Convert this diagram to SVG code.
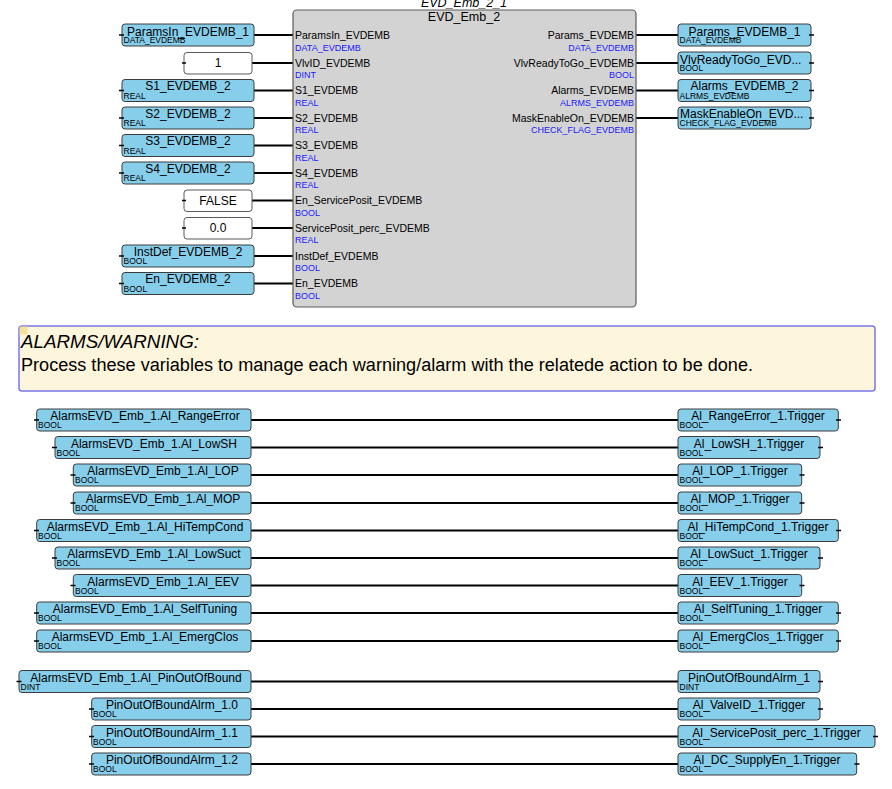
<svg xmlns="http://www.w3.org/2000/svg" width="892" height="789" viewBox="0 0 892 789">
<style>
text{font-family:"Liberation Sans",Arial,sans-serif}
.var{fill:#87ceeb;stroke:#3c3c3c;stroke-width:1}
.cst{fill:#fff;stroke:#5a5a5a;stroke-width:1}
.nm{font-size:12px;text-anchor:middle;fill:#000}
.nl{font-size:12px;fill:#000}
.ty{font-size:8.5px;fill:#000}
.w{stroke:#000;stroke-width:2;fill:none}
.st{stroke:#000;stroke-width:1.5}
.pn{font-size:10.5px;fill:#000}
.pr{font-size:10.5px;fill:#000;text-anchor:end}
.pt{font-size:9px;fill:#1a1aff}
.ptr{font-size:9px;fill:#1a1aff;text-anchor:end}
</style>
<rect width="892" height="789" fill="#fff"/>

<g id="connectors">
<line class="w" x1="254" y1="35" x2="293" y2="35"/>
<line class="w" x1="252" y1="63" x2="293" y2="63"/>
<line class="w" x1="254" y1="90.5" x2="293" y2="90.5"/>
<line class="w" x1="254" y1="118" x2="293" y2="118"/>
<line class="w" x1="254" y1="145.5" x2="293" y2="145.5"/>
<line class="w" x1="254" y1="173" x2="293" y2="173"/>
<line class="w" x1="252" y1="200.5" x2="293" y2="200.5"/>
<line class="w" x1="252" y1="228" x2="293" y2="228"/>
<line class="w" x1="254" y1="256" x2="293" y2="256"/>
<line class="w" x1="254" y1="283.5" x2="293" y2="283.5"/>
<line class="w" x1="636" y1="35" x2="678" y2="35"/>
<line class="w" x1="636" y1="63" x2="678" y2="63"/>
<line class="w" x1="636" y1="90.5" x2="678" y2="90.5"/>
<line class="w" x1="636" y1="118" x2="678" y2="118"/>
<line class="w" x1="251" y1="420" x2="678" y2="420"/>
<line class="w" x1="251" y1="447.5" x2="678" y2="447.5"/>
<line class="w" x1="251" y1="475" x2="678" y2="475"/>
<line class="w" x1="251" y1="503" x2="678" y2="503"/>
<line class="w" x1="251" y1="530.5" x2="678" y2="530.5"/>
<line class="w" x1="251" y1="558" x2="678" y2="558"/>
<line class="w" x1="251" y1="585.5" x2="678" y2="585.5"/>
<line class="w" x1="251" y1="613" x2="678" y2="613"/>
<line class="w" x1="251" y1="641" x2="678" y2="641"/>
<line class="w" x1="251" y1="681.5" x2="678" y2="681.5"/>
<line class="w" x1="251" y1="709" x2="678" y2="709"/>
<line class="w" x1="251" y1="736.5" x2="678" y2="736.5"/>
<line class="w" x1="251" y1="764" x2="678" y2="764"/>
</g>

<g id="block_EVD_Emb_2_1">
<text x="464" y="7" font-size="12.5" font-style="italic" text-anchor="middle">EVD_Emb_2_1</text>
<rect x="293" y="10" width="343" height="297" rx="4" fill="#d3d3d3" stroke="#5a5a5a" stroke-width="1.2"/>
<text x="464" y="21" font-size="12.5" text-anchor="middle">EVD_Emb_2</text>
<text class="pn" x="295" y="38.5">ParamsIn_EVDEMB</text><text class="pt" x="295" y="50.5">DATA_EVDEMB</text>
<text class="pn" x="295" y="66.5">VlvID_EVDEMB</text><text class="pt" x="295" y="78">DINT</text>
<text class="pn" x="295" y="94">S1_EVDEMB</text><text class="pt" x="295" y="105.5">REAL</text>
<text class="pn" x="295" y="121.5">S2_EVDEMB</text><text class="pt" x="295" y="133">REAL</text>
<text class="pn" x="295" y="149">S3_EVDEMB</text><text class="pt" x="295" y="160.5">REAL</text>
<text class="pn" x="295" y="176.5">S4_EVDEMB</text><text class="pt" x="295" y="188">REAL</text>
<text class="pn" x="295" y="204">En_ServicePosit_EVDEMB</text><text class="pt" x="295" y="215.5">BOOL</text>
<text class="pn" x="295" y="231.5">ServicePosit_perc_EVDEMB</text><text class="pt" x="295" y="243">REAL</text>
<text class="pn" x="295" y="259.5">InstDef_EVDEMB</text><text class="pt" x="295" y="271">BOOL</text>
<text class="pn" x="295" y="287">En_EVDEMB</text><text class="pt" x="295" y="298.5">BOOL</text>
<text class="pr" x="634" y="38.5">Params_EVDEMB</text><text class="ptr" x="634" y="50.5">DATA_EVDEMB</text>
<text class="pr" x="634" y="66.5">VlvReadyToGo_EVDEMB</text><text class="ptr" x="634" y="78">BOOL</text>
<text class="pr" x="634" y="94">Alarms_EVDEMB</text><text class="ptr" x="634" y="105.5">ALRMS_EVDEMB</text>
<text class="pr" x="634" y="121.5">MaskEnableOn_EVDEMB</text><text class="ptr" x="634" y="133">CHECK_FLAG_EVDEMB</text>
</g>

<g id="in_ParamsIn"><rect class="var" x="122" y="24" width="132" height="22" rx="3"/><line class="st" x1="119" y1="35" x2="124" y2="35"/><text class="nm" x="188" y="35.5">ParamsIn_EVDEMB_1</text><text class="ty" x="123.5" y="43">DATA_EVDEMB</text></g>
<g id="in_const1"><rect class="cst" x="184" y="52.5" width="68" height="21.5" rx="3"/><line class="st" x1="182" y1="63" x2="186" y2="63"/><text class="nm" x="218" y="67">1</text></g>
<g id="in_S1"><rect class="var" x="122" y="79.5" width="132" height="22" rx="3"/><line class="st" x1="119" y1="90.5" x2="124" y2="90.5"/><text class="nm" x="188" y="90">S1_EVDEMB_2</text><text class="ty" x="123.5" y="98.5">REAL</text></g>
<g id="in_S2"><rect class="var" x="122" y="107" width="132" height="22" rx="3"/><line class="st" x1="119" y1="118" x2="124" y2="118"/><text class="nm" x="188" y="117.5">S2_EVDEMB_2</text><text class="ty" x="123.5" y="126">REAL</text></g>
<g id="in_S3"><rect class="var" x="122" y="134.5" width="132" height="22" rx="3"/><line class="st" x1="119" y1="145.5" x2="124" y2="145.5"/><text class="nm" x="188" y="145">S3_EVDEMB_2</text><text class="ty" x="123.5" y="153.5">REAL</text></g>
<g id="in_S4"><rect class="var" x="122" y="162" width="132" height="22" rx="3"/><line class="st" x1="119" y1="173" x2="124" y2="173"/><text class="nm" x="188" y="172.5">S4_EVDEMB_2</text><text class="ty" x="123.5" y="181">REAL</text></g>
<g id="in_FALSE"><rect class="cst" x="184" y="190" width="68" height="21.5" rx="3"/><line class="st" x1="182" y1="200.5" x2="186" y2="200.5"/><text class="nm" x="218" y="204.5">FALSE</text></g>
<g id="in_zero"><rect class="cst" x="184" y="217.5" width="68" height="21.5" rx="3"/><line class="st" x1="182" y1="228" x2="186" y2="228"/><text class="nm" x="218" y="232">0.0</text></g>
<g id="in_InstDef"><rect class="var" x="122" y="245" width="132" height="22" rx="3"/><line class="st" x1="119" y1="256" x2="124" y2="256"/><text class="nm" x="188" y="255.5">InstDef_EVDEMB_2</text><text class="ty" x="123.5" y="264">BOOL</text></g>
<g id="in_En"><rect class="var" x="122" y="272.5" width="132" height="22" rx="3"/><line class="st" x1="119" y1="283.5" x2="124" y2="283.5"/><text class="nm" x="188" y="283">En_EVDEMB_2</text><text class="ty" x="123.5" y="291.5">BOOL</text></g>

<g id="out_Params"><rect class="var" x="678" y="24" width="133" height="22" rx="3"/><line class="st" x1="809" y1="35" x2="814" y2="35"/><text class="nm" x="744.5" y="35.5">Params_EVDEMB_1</text><text class="ty" x="679.5" y="43">DATA_EVDEMB</text></g>
<g id="out_VlvReady"><rect class="var" x="678" y="52" width="133" height="22" rx="3"/><line class="st" x1="809" y1="63" x2="814" y2="63"/><text class="nl" x="680" y="63.5">VlvReadyToGo_EVD...</text><text class="ty" x="679.5" y="71">BOOL</text></g>
<g id="out_Alarms"><rect class="var" x="678" y="79.5" width="133" height="22" rx="3"/><line class="st" x1="809" y1="90.5" x2="814" y2="90.5"/><text class="nm" x="744.5" y="90">Alarms_EVDEMB_2</text><text class="ty" x="679.5" y="98.5">ALRMS_EVDEMB</text></g>
<g id="out_Mask"><rect class="var" x="678" y="107" width="133" height="22" rx="3"/><line class="st" x1="809" y1="118" x2="814" y2="118"/><text class="nl" x="680" y="117.5">MaskEnableOn_EVD...</text><text class="ty" x="679.5" y="126">CHECK_FLAG_EVDEMB</text></g>

<g id="comment">
<rect x="19" y="326" width="856" height="65" rx="3" fill="#fdf5dc" stroke="#7878e8" stroke-width="1.5"/>
<rect x="19.5" y="326.5" width="8" height="8" fill="#f3dc86" opacity="0.8"/>
<text x="21" y="347.5" font-size="18" font-style="italic" textLength="178" lengthAdjust="spacingAndGlyphs">ALARMS/WARNING:</text>
<text x="21" y="370.5" font-size="18" textLength="732" lengthAdjust="spacingAndGlyphs">Process these variables to manage each warning/alarm with the relatede action to be done.</text>
</g>

<g id="l_RangeError"><rect class="var" x="36.7" y="409" width="214.3" height="22" rx="3"/><line class="st" x1="34" y1="420" x2="39" y2="420"/><text class="nm" x="145" y="420">AlarmsEVD_Emb_1.Al_RangeError</text><text class="ty" x="38" y="428">BOOL</text></g>
<g id="l_LowSH"><rect class="var" x="55" y="436.5" width="196" height="22" rx="3"/><line class="st" x1="52" y1="447.5" x2="57" y2="447.5"/><text class="nm" x="154" y="447.5">AlarmsEVD_Emb_1.Al_LowSH</text><text class="ty" x="56.5" y="455.5">BOOL</text></g>
<g id="l_LOP"><rect class="var" x="73.3" y="464" width="177.7" height="22" rx="3"/><line class="st" x1="70.5" y1="475" x2="75.5" y2="475"/><text class="nm" x="163" y="475">AlarmsEVD_Emb_1.Al_LOP</text><text class="ty" x="75" y="483">BOOL</text></g>
<g id="l_MOP"><rect class="var" x="73.3" y="492" width="177.7" height="22" rx="3"/><line class="st" x1="70.5" y1="503" x2="75.5" y2="503"/><text class="nm" x="163" y="503">AlarmsEVD_Emb_1.Al_MOP</text><text class="ty" x="75" y="511">BOOL</text></g>
<g id="l_HiTempCond"><rect class="var" x="36.7" y="519.5" width="214.3" height="22" rx="3"/><line class="st" x1="34" y1="530.5" x2="39" y2="530.5"/><text class="nm" x="145" y="530.5">AlarmsEVD_Emb_1.Al_HiTempCond</text><text class="ty" x="38" y="538.5">BOOL</text></g>
<g id="l_LowSuct"><rect class="var" x="55" y="547" width="196" height="22" rx="3"/><line class="st" x1="52" y1="558" x2="57" y2="558"/><text class="nm" x="154" y="558">AlarmsEVD_Emb_1.Al_LowSuct</text><text class="ty" x="56.5" y="566">BOOL</text></g>
<g id="l_EEV"><rect class="var" x="73.3" y="574.5" width="177.7" height="22" rx="3"/><line class="st" x1="70.5" y1="585.5" x2="75.5" y2="585.5"/><text class="nm" x="163" y="585.5">AlarmsEVD_Emb_1.Al_EEV</text><text class="ty" x="75" y="593.5">BOOL</text></g>
<g id="l_SelfTuning"><rect class="var" x="36.7" y="602" width="214.3" height="22" rx="3"/><line class="st" x1="34" y1="613" x2="39" y2="613"/><text class="nm" x="145" y="613">AlarmsEVD_Emb_1.Al_SelfTuning</text><text class="ty" x="38" y="621">BOOL</text></g>
<g id="l_EmergClos"><rect class="var" x="36.7" y="630" width="214.3" height="22" rx="3"/><line class="st" x1="34" y1="641" x2="39" y2="641"/><text class="nm" x="145" y="641">AlarmsEVD_Emb_1.Al_EmergClos</text><text class="ty" x="38" y="649">BOOL</text></g>
<g id="l_PinOutOfBound"><rect class="var" x="19" y="670.5" width="232" height="22" rx="3"/><line class="st" x1="16.5" y1="681.5" x2="21.5" y2="681.5"/><text class="nm" x="136" y="681.5">AlarmsEVD_Emb_1.Al_PinOutOfBound</text><text class="ty" x="20.5" y="689.5">DINT</text></g>
<g id="l_Pin10"><rect class="var" x="91.7" y="698" width="159.3" height="22" rx="3"/><line class="st" x1="89" y1="709" x2="94" y2="709"/><text class="nm" x="172" y="709">PinOutOfBoundAlrm_1.0</text><text class="ty" x="93" y="717">BOOL</text></g>
<g id="l_Pin11"><rect class="var" x="91.7" y="725.5" width="159.3" height="22" rx="3"/><line class="st" x1="89" y1="736.5" x2="94" y2="736.5"/><text class="nm" x="172" y="736.5">PinOutOfBoundAlrm_1.1</text><text class="ty" x="93" y="744.5">BOOL</text></g>
<g id="l_Pin12"><rect class="var" x="91.7" y="753" width="159.3" height="22" rx="3"/><line class="st" x1="89" y1="764" x2="94" y2="764"/><text class="nm" x="172" y="764">PinOutOfBoundAlrm_1.2</text><text class="ty" x="93" y="772">BOOL</text></g>

<g id="r_RangeError"><rect class="var" x="678" y="409" width="160.3" height="22" rx="3"/><line class="st" x1="836" y1="420" x2="841" y2="420"/><text class="nm" x="758" y="420">Al_RangeError_1.Trigger</text><text class="ty" x="679.5" y="428">BOOL</text></g>
<g id="r_LowSH"><rect class="var" x="678" y="436.5" width="142" height="22" rx="3"/><line class="st" x1="818" y1="447.5" x2="823" y2="447.5"/><text class="nm" x="749" y="447.5">Al_LowSH_1.Trigger</text><text class="ty" x="679.5" y="455.5">BOOL</text></g>
<g id="r_LOP"><rect class="var" x="678" y="464" width="123.7" height="22" rx="3"/><line class="st" x1="799.5" y1="475" x2="804.5" y2="475"/><text class="nm" x="740" y="475">Al_LOP_1.Trigger</text><text class="ty" x="679.5" y="483">BOOL</text></g>
<g id="r_MOP"><rect class="var" x="678" y="492" width="123.7" height="22" rx="3"/><line class="st" x1="799.5" y1="503" x2="804.5" y2="503"/><text class="nm" x="740" y="503">Al_MOP_1.Trigger</text><text class="ty" x="679.5" y="511">BOOL</text></g>
<g id="r_HiTempCond"><rect class="var" x="678" y="519.5" width="160.3" height="22" rx="3"/><line class="st" x1="836" y1="530.5" x2="841" y2="530.5"/><text class="nm" x="758" y="530.5">Al_HiTempCond_1.Trigger</text><text class="ty" x="679.5" y="538.5">BOOL</text></g>
<g id="r_LowSuct"><rect class="var" x="678" y="547" width="142" height="22" rx="3"/><line class="st" x1="818" y1="558" x2="823" y2="558"/><text class="nm" x="749" y="558">Al_LowSuct_1.Trigger</text><text class="ty" x="679.5" y="566">BOOL</text></g>
<g id="r_EEV"><rect class="var" x="678" y="574.5" width="123.7" height="22" rx="3"/><line class="st" x1="799.5" y1="585.5" x2="804.5" y2="585.5"/><text class="nm" x="740" y="585.5">Al_EEV_1.Trigger</text><text class="ty" x="679.5" y="593.5">BOOL</text></g>
<g id="r_SelfTuning"><rect class="var" x="678" y="602" width="160.3" height="22" rx="3"/><line class="st" x1="836" y1="613" x2="841" y2="613"/><text class="nm" x="758" y="613">Al_SelfTuning_1.Trigger</text><text class="ty" x="679.5" y="621">BOOL</text></g>
<g id="r_EmergClos"><rect class="var" x="678" y="630" width="160.3" height="22" rx="3"/><line class="st" x1="836" y1="641" x2="841" y2="641"/><text class="nm" x="758" y="641">Al_EmergClos_1.Trigger</text><text class="ty" x="679.5" y="649">BOOL</text></g>
<g id="r_PinOutOfBoundAlrm"><rect class="var" x="678" y="670.5" width="142" height="22" rx="3"/><line class="st" x1="818" y1="681.5" x2="823" y2="681.5"/><text class="nm" x="749" y="681.5">PinOutOfBoundAlrm_1</text><text class="ty" x="679.5" y="689.5">DINT</text></g>
<g id="r_ValveID"><rect class="var" x="678" y="698" width="142" height="22" rx="3"/><line class="st" x1="818" y1="709" x2="823" y2="709"/><text class="nm" x="749" y="709">Al_ValveID_1.Trigger</text><text class="ty" x="679.5" y="717">BOOL</text></g>
<g id="r_ServicePosit"><rect class="var" x="678" y="725.5" width="197" height="22" rx="3"/><line class="st" x1="873" y1="736.5" x2="878" y2="736.5"/><text class="nm" x="776.5" y="736.5">Al_ServicePosit_perc_1.Trigger</text><text class="ty" x="679.5" y="744.5">BOOL</text></g>
<g id="r_DCSupply"><rect class="var" x="678" y="753" width="178.7" height="22" rx="3"/><line class="st" x1="854.5" y1="764" x2="859.5" y2="764"/><text class="nm" x="767" y="764">Al_DC_SupplyEn_1.Trigger</text><text class="ty" x="679.5" y="772">BOOL</text></g>
</svg>
